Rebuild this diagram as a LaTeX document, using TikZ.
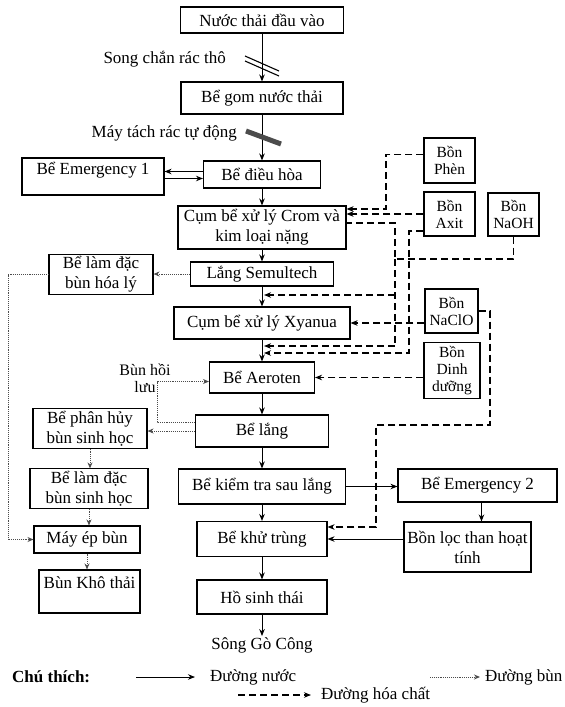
\documentclass[tikz,border=0pt]{standalone}
\usepackage{fontspec}
\setmainfont{Liberation Serif}
\usetikzlibrary{arrows.meta,calc}

\begin{document}
\begin{tikzpicture}[x=1pt,y=1pt,yscale=-1,xscale=1,
    box/.style={draw, line width=1.1pt, inner sep=2pt, align=center, font=\fontsize{17}{20}\selectfont},
    tank/.style={draw, line width=1.1pt, inner sep=1pt, align=center, font=\fontsize{15.5}{17}\selectfont},
    sz/.style 2 args={minimum width=#1pt, minimum height=#2pt},
    topbox/.style 2 args={text height=#1pt, text depth=#2pt},
    lbl/.style={inner sep=1pt, font=\fontsize{17}{20}\selectfont},
    water/.style={line width=1pt, -{Stealth[length=7pt,width=5.5pt]}},
    sludge/.style={line width=0.9pt, black!70, densely dotted, -{Stealth[length=6pt,width=5pt]}},
    chemline/.style={line width=1.3pt, dash pattern=on 7pt off 4pt},
    chem/.style={chemline, -{Stealth[length=7pt,width=5.5pt]}}]
    \useasboundingbox (0,0) rectangle (565,707);

    % Text Node
    \node[box, sz={163}{26}] (in) at (262,20) {Nước thải đầu vào};
    % Text Node
    \node[box, sz={162}{32}] (gom) at (262,98) {Bể gom nước thải};
    % Text Node
    \node[box, sz={117}{27}] (dieuhoa) at (262,174.5) {Bể điều hòa};
    % Text Node
    \node[box, sz={142}{37}, topbox={13}{18}] (emg1) at (93,176.5) {Bể Emergency 1};
    % Text Node
    \node[box, sz={168}{43}] (crom) at (262,227.5) {Cụm bể xử lý Crom và\\kim loại nặng};
    % Text Node
    \node[box, sz={143}{24}] (semul) at (262,274) {Lắng Semultech};
    % Text Node
    \node[box, sz={104}{35}] (lamdachl) at (101,274.5) {Bể làm đặc\\bùn hóa lý};
    % Text Node
    \node[box, sz={176}{32}] (xyanua) at (262,323) {Cụm bể xử lý Xyanua};
    % Text Node
    \node[box, sz={105}{31}] (aeroten) at (262,377.5) {Bể Aeroten};
    % Text Node
    \node[box, sz={133}{32}] (lang) at (262,431) {Bể lắng};
    % Text Node
    \node[box, sz={114}{39}] (phanhuy) at (90,428.5) {Bể phân hủy\\bùn sinh học};
    % Text Node
    \node[box, sz={118}{37}] (lamdacsh) at (89,488.5) {Bể làm đặc\\bùn sinh học};
    % Text Node
    \node[box, sz={167}{35}] (kiemtra) at (262,486.5) {Bể kiểm tra sau lắng};
    % Text Node
    \node[box, sz={159}{33}] (emg2) at (477.5,485.5) {Bể Emergency 2};
    % Text Node
    \node[box, sz={127}{50}] (locthan) at (467.5,547) {Bồn lọc than hoạt\\tính};
    % Text Node
    \node[box, sz={130}{35}] (khutrung) at (262,539) {Bể khử trùng};
    % Text Node
    \node[box, sz={106}{27}] (mayep) at (87,539.5) {Máy ép bùn};
    % Text Node
    \node[box, sz={101}{43}, topbox={15}{22}] (bunkho) at (89.5,591.5) {Bùn Khô thải};
    % Text Node
    \node[box, sz={130}{34}] (hosinh) at (262,597) {Hồ sinh thái};
    % Text Node
    \node[lbl] (song) at (262,645) {Sông Gò Công};

    % Chemical tanks
    \node[tank, sz={51}{45}] (phen) at (449.5,160.5) {Bồn\\Phèn};
    \node[tank, sz={51}{44}] (axit) at (449.5,214) {Bồn\\Axit};
    \node[tank, sz={51}{43}] (naoh) at (513.5,214.5) {Bồn\\NaOH};
    \node[tank, sz={53}{44}] (naclo) at (451.5,311) {Bồn\\NaClO};
    \node[tank, sz={56}{56}] (dinhduong) at (452,370.5) {Bồn\\Dinh\\dưỡng};

    % Text Node
    \node[lbl, anchor=east] (songchan) at (227,59) {Song chắn rác thô};
    % Text Node
    \node[lbl, anchor=east] (maytach) at (238,133) {Máy tách rác tự động};
    % Text Node
    \node[lbl, align=center, font=\fontsize{16}{17}\selectfont] (bunhoiluu) at (145,378) {Bùn hồi\\lưu};

    % Connection
    \draw[water] (in) -- (gom);
    \draw[water] (gom) -- (dieuhoa);
    \draw[water] (dieuhoa) -- (crom);
    \draw[water] (crom) -- (semul);
    \draw[water] (semul) -- (xyanua);
    \draw[water] (xyanua) -- (aeroten);
    \draw[water] (aeroten) -- (lang);
    \draw[water] (lang) -- (kiemtra);
    \draw[water] (kiemtra) -- (khutrung);
    \draw[water] (khutrung) -- (hosinh);
    \draw[water] (hosinh) -- (song);
    % Connection
    \draw[water] ($(dieuhoa.west)+(0,-3)$) -- ($(emg1.east |- dieuhoa.west)+(0,-3)$);
    \draw[water] ($(emg1.east |- dieuhoa.west)+(0,4)$) -- ($(dieuhoa.west)+(0,4)$);
    % Connection
    \draw[water] (kiemtra.east) -- (kiemtra.east -| emg2.west);
    \draw[water] ($(emg2.south)+(4,0)$) -- ($(emg2.south |- locthan.north)+(4,0)$);
    \draw[water] (locthan.west |- khutrung.east) -- (khutrung.east);

    % Screens
    \draw[line width=1.1pt] (245,56) -- (279,71);
    \draw[line width=1.1pt] (245,61) -- (279,76);
    \draw[line width=5pt, black!70] (246,131) -- (281,144);

    % Sludge lines
    \draw[sludge] (semul.west) -- (semul.west -| lamdachl.east);
    \draw[sludge] (lamdachl.west) -- ++(-40,0) |- (mayep.west);
    \draw[sludge] (lang.west) -- (lang.west -| phanhuy.east);
    \draw[sludge] ($(lang.west)+(0,-9)$) -- ++(-38,0) |- ($(aeroten.west)+(0,4)$);
    \draw[sludge] (phanhuy.south) -- (phanhuy.south |- lamdacsh.north);
    \draw[sludge] (lamdacsh.south) -- (lamdacsh.south |- mayep.north);
    \draw[sludge] (mayep.south) -- (mayep.south |- bunkho.north);

    % Chemical lines
    \coordinate (mainx) at (264,0);
    \coordinate (kPhen) at (386,209);
    \coordinate (kNaOH) at (395,223);
    \coordinate (kNaOHb) at (395,259);
    \coordinate (kXy) at (395,295);
    \coordinate (kAe) at (395,346);
    \coordinate (kAx) at (409,353);
    \coordinate (kCl) at (490,425);
    \coordinate (kKt) at (376,425);
    \draw[chem] ($(phen.west)+(0,-6)$) -| (kPhen) -- (kPhen -| crom.east);
    \draw[chem] (axit.west) -- (axit.west -| crom.east);
    \draw[chemline] (naoh.south) |- (kNaOHb) -- (kNaOH) -- (kNaOH -| crom.east);
    \draw[chemline] (kNaOHb) -- (kAe);
    \draw[chem] (kXy) -- (kXy -| mainx);
    \draw[chem] (kAe) -- (kAe -| mainx);
    \draw[chem] ($(axit.west)+(0,17)$) -| (kAx) -- (kAx -| mainx);
    \draw[chem] (naclo.west |- xyanua.east) -- (xyanua.east);
    \draw[chem] (dinhduong.west |- aeroten.east) -- (aeroten.east);
    \draw[chem] (naclo.east) -| (kCl) -- (kKt) |- ($(khutrung.east)+(0,-12)$);

    % Legend
    \node[lbl, anchor=west, font=\bfseries\fontsize{17}{20}\selectfont] (chuthich) at (11,677) {Chú thích:};
    \node[lbl, anchor=west] (lgwater) at (209,677) {Đường nước};
    \node[lbl, anchor=west] (lgsludge) at (484,677) {Đường bùn};
    \node[lbl, anchor=west] (lgchem) at (320,695) {Đường hóa chất};
    \coordinate (lgw) at (136,677);
    \coordinate (lgs) at (430,677);
    \coordinate (lgc) at (238,695);
    \draw[water] (lgw) -- ++(59,0);
    \draw[sludge] (lgs) -- ++(50,0);
    \draw[chem] (lgc) -- ++(73,0);
\end{tikzpicture}
\end{document}
